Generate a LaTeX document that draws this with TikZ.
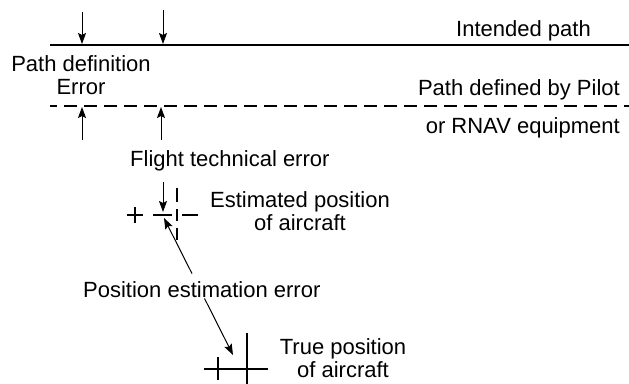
\documentclass[tikz,border=0pt]{standalone}
\usepackage{fontspec}
\setmainfont{Liberation Sans}
\usetikzlibrary{arrows.meta,calc}
\begin{document}
\begin{tikzpicture}[x=1pt,y=-1pt,
  lbl/.style={inner sep=0pt, font=\fontsize{22}{23}\selectfont},
  mainline/.style={line width=2.5pt},
  crossline/.style={line width=2.5pt},
  ptr/.style={line width=1pt, -{Stealth[length=11pt,width=8pt,inset=2pt]}}]
\useasboundingbox (0,0) rectangle (629,383);

% paths
\coordinate (ipL) at (50,45); \coordinate (ipR) at (629,45);
\draw[mainline] (ipL) -- (ipR);
\coordinate (dpL) at (50,106); \coordinate (dpR) at (629,106);
\draw[mainline, dash pattern=on 13pt off 7pt, dash phase=6pt] (dpL) -- (dpR);

% path definition error arrows
\coordinate (d1s) at (82,12);  \coordinate (d1e) at (82,44);
\coordinate (d2s) at (163,10); \coordinate (d2e) at (163,44);
\draw[ptr] (d1s) -- (d1e);
\draw[ptr] (d2s) -- (d2e);
\coordinate (u1s) at (82,140);  \coordinate (u1e) at (82,107);
\coordinate (u2s) at (161,140); \coordinate (u2e) at (161,107);
\draw[ptr] (u1s) -- (u1e);
\draw[ptr] (u2s) -- (u2e);

% labels
\node[lbl, anchor=base east] (intended) at (591,36) {Intended path};
\node[lbl, align=center] (pde) at (81,75.6) {Path definition\\Error};
\node[lbl, anchor=base east] (pilot) at (620,95) {Path defined by Pilot};
\node[lbl, anchor=base east] (rnav) at (620,133) {or RNAV equipment};
\node[lbl, anchor=base west] (fte) at (130,166) {Flight technical error};
\node[lbl, align=center] (estlbl) at (300,211.5) {Estimated position\\of aircraft};
\node[lbl, anchor=base west] (pee) at (83,297) {Position estimation error};
\node[lbl, align=center] (truelbl) at (343,358.5) {True position\\of aircraft};

% small plus (left)
\draw[crossline] (127,215) -- (143,215) (135,207) -- (135,223);
% estimated position (dashed cross)
\draw[crossline] (153,215) -- (172,215) (182,215) -- (198,215);
\draw[crossline] (177,188) -- (177,202) (177,209) -- (177,221) (177,228) -- (177,240);
% true position
\draw[crossline] (204,369) -- (268,369) (218,357) -- (218,380) (247,333) -- (247,385);

% flight technical error arrow
\coordinate (ftes) at (163,182); \coordinate (ftee) at (163,212);
\draw[ptr] (ftes) -- (ftee);

% position estimation error arrow
\coordinate (pe1) at (164,218); \coordinate (pe2) at (233,355);
\draw[ptr] ($(pe1)!0.406!(pe2)$) -- (pe1);
\draw[ptr] ($(pe1)!0.587!(pe2)$) -- (pe2);
\end{tikzpicture}
\end{document}
